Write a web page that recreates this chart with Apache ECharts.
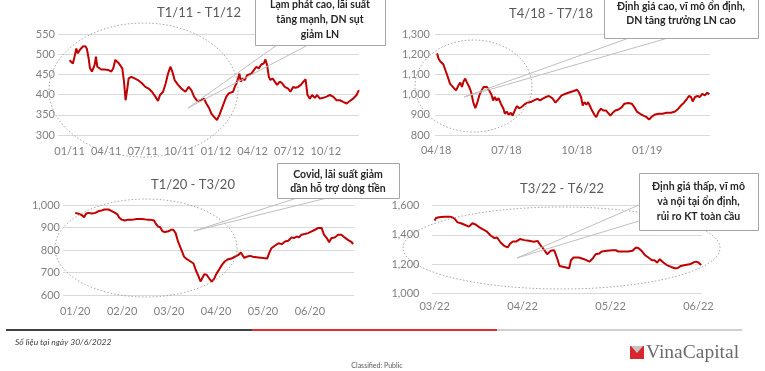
<!DOCTYPE html>
<html><head><meta charset="utf-8">
<script src="https://cdn.jsdelivr.net/npm/echarts@6/dist/echarts.min.js"></script>
<style>html,body{margin:0;padding:0;background:#fff}#c{width:765px;height:371px}</style>
</head><body><div id="c"></div>
<script>
// ---- DATA (x = months since the first label of each panel) ----
// Panel 1: T1/11 - T1/12 (base Jan 2011)
const p1T = [0,0.14,0.27,0.41,0.55,0.68,0.82,0.96,1.09,1.29,1.42,1.56,1.67,1.83,1.94,2.05,2.16,2.27,2.41,2.6,2.87,3.15,3.42,3.58,3.75,3.91,4.05,4.18,4.32,4.46,4.59,4.73,4.84,5.06,5.33,5.6,5.93,6.21,6.48,6.75,7.03,7.25,7.41,7.66,7.88,8.07,8.26,8.42,8.61,8.89,9.16,9.49,9.76,9.98,10.2,10.47,10.8,11.02,11.21,11.43,11.62,11.84,12.08,12.3,12.58,12.85,13.04,13.2,13.4,13.54,13.67,13.81,13.92,14.03,14.17,14.36,14.55,14.71,14.9,15.12,15.31,15.5,15.73,15.92,16.05,16.19,16.33,16.46,16.63,16.82,17.01,17.23,17.42,17.64,17.91,18.1,18.32,18.51,18.73,18.95,19.17,19.34,19.5,19.69,19.88,20.1,20.29,20.51,20.78,21.06,21.33,21.6,21.88,22.15,22.42,22.7,22.97,23.24,23.52,23.71];
const p1V = [485,483,477,494,514,502,510,513,519,520,513,490,465,457,461,473,494,469,465,462,462,461,457,465,486,483,477,481,465,432,386,415,440,444,440,436,428,419,415,407,395,384,399,407,428,452,469,457,436,424,415,407,419,411,395,384,386,390,378,367,353,345,337,351,374,395,403,399,407,419,428,440,452,432,440,436,448,444,452,461,469,465,475,477,487,473,444,436,440,432,424,432,428,419,415,407,419,417,419,424,432,438,399,390,399,392,399,390,392,395,399,395,386,386,382,378,384,390,399,411];
// Panel 2: T4/18 - T7/18 (base Apr 2018)
const p2T = [0.04,0.1,0.17,0.24,0.31,0.35,0.42,0.47,0.52,0.59,0.67,0.75,0.85,0.95,1.03,1.1,1.17,1.24,1.3,1.34,1.41,1.49,1.58,1.67,1.74,1.84,1.94,2.02,2.09,2.16,2.26,2.36,2.43,2.5,2.58,2.66,2.76,2.87,2.93,3.01,3.09,3.18,3.26,3.35,3.44,3.54,3.64,3.75,3.89,4.03,4.17,4.32,4.43,4.53,4.67,4.81,4.95,5.09,5.21,5.35,5.52,5.73,5.87,6.01,6.08,6.18,6.25,6.32,6.41,6.48,6.55,6.65,6.75,6.83,6.93,7.03,7.14,7.25,7.33,7.43,7.53,7.64,7.78,7.92,8.03,8.2,8.34,8.45,8.56,8.7,8.84,8.98,9.08,9.17,9.31,9.48,9.65,9.83,10.02,10.19,10.33,10.44,10.57,10.68,10.78,10.87,10.94,11.04,11.15,11.25,11.35,11.46,11.56,11.65];
const p2V = [1204,1179,1165,1159,1149,1154,1112,1096,1079,1054,1043,1033,1021,1046,1059,1038,1066,1079,1063,1054,1038,1013,963,933,955,996,1021,1038,1043,1038,1021,999,971,988,971,983,955,930,905,916,900,910,896,921,943,933,938,950,960,963,971,979,971,979,988,993,983,960,976,996,1004,1013,1018,1024,1013,988,946,963,950,963,946,921,900,888,916,930,921,921,910,896,910,921,926,938,955,958,955,938,916,905,896,888,876,888,900,905,905,910,910,916,930,946,960,976,993,988,966,988,993,988,1004,996,1009,1001];
// Panel 3: T1/20 - T3/20 (base Jan 2020)
const p3T = [0,0.07,0.14,0.19,0.23,0.28,0.35,0.43,0.5,0.57,0.62,0.66,0.71,0.78,0.85,0.9,0.94,0.99,1.06,1.13,1.17,1.23,1.31,1.42,1.53,1.6,1.63,1.68,1.72,1.76,1.81,1.86,1.91,1.99,2.04,2.09,2.14,2.19,2.23,2.28,2.32,2.38,2.45,2.52,2.57,2.62,2.67,2.72,2.75,2.8,2.86,2.91,2.96,3.01,3.07,3.13,3.19,3.26,3.33,3.4,3.47,3.53,3.57,3.6,3.65,3.72,3.79,3.9,4.01,4.09,4.13,4.18,4.26,4.33,4.4,4.47,4.54,4.61,4.66,4.72,4.77,4.82,4.89,4.96,5.04,5.11,5.18,5.25,5.3,5.36,5.41,5.46,5.53,5.6,5.67,5.74,5.81,5.89,5.92];
const p3V = [965,961,955,946,961,965,962,965,973,976,980,988,980,973,965,958,943,935,931,935,943,935,938,938,935,935,928,931,916,905,901,883,880,883,890,890,875,838,830,792,770,759,750,740,710,687,660,680,692,690,672,660,672,695,714,735,750,759,762,770,777,789,792,765,770,774,770,767,764,762,785,808,820,830,826,838,841,856,853,860,856,868,871,875,883,890,898,898,868,853,835,853,856,868,868,856,845,835,826];
// Panel 4: T3/22 - T6/22 (base Mar 2022)
const p4T = [0,0.015,0.05,0.11,0.17,0.2,0.23,0.26,0.3,0.34,0.39,0.43,0.47,0.51,0.54,0.59,0.64,0.68,0.71,0.75,0.79,0.83,0.86,0.89,0.93,0.97,1.02,1.07,1.13,1.17,1.2,1.24,1.28,1.32,1.36,1.39,1.42,1.47,1.53,1.55,1.58,1.64,1.7,1.76,1.8,1.83,1.87,1.9,1.96,2.02,2.06,2.09,2.15,2.2,2.25,2.29,2.32,2.36,2.39,2.43,2.47,2.5,2.53,2.56,2.6,2.64,2.69,2.73,2.76,2.8,2.85,2.9,2.94,2.97,3.0,3.03];
const p4V = [1497,1515,1520,1524,1524,1520,1508,1485,1479,1469,1456,1479,1469,1451,1440,1424,1394,1378,1382,1348,1325,1314,1341,1355,1355,1371,1364,1359,1353,1359,1332,1302,1268,1291,1295,1245,1188,1181,1172,1227,1245,1245,1234,1217,1240,1268,1272,1286,1291,1295,1295,1286,1286,1286,1291,1314,1309,1286,1263,1245,1227,1227,1211,1234,1211,1194,1181,1172,1172,1188,1194,1199,1211,1217,1211,1194];

const titles = ['T1/11 - T1/12','T4/18 - T7/18','T1/20 - T3/20','T3/22 - T6/22'];
const bases = [[2011,1],[2018,4],[2020,1],[2022,3]];
const labelMonths = [[0,3,6,9,12,15,18,21],[0,3,6,9],[0,1,2,3,4,5],[0,1,2,3]];
const yRanges = [[300,550,50],[800,1300,100],[600,1000,100],[1000,1600,200]];
const notes = [
  'Lạm phát cao, lãi suất\ntăng mạnh, DN sụt\ngiảm LN',
  'Định giá cao, vĩ mô ổn định,\nDN tăng trưởng LN cao',
  'Covid, lãi suất giảm\ndần hỗ trợ dòng tiền',
  'Định giá thấp, vĩ mô\nvà nội tại ổn định,\nrủi ro KT toàn cầu'
];
const footNote = 'Số liệu tại ngày 30/6/2022';
const classText = 'Classified: Public';
const brand = 'VinaCapital';

// ---- LAYOUT ----
const grids = [
  {left:58, top:34, width:301, height:101},
  {left:435, top:34, width:275, height:101},
  {left:63, top:205, width:291, height:90},
  {left:432, top:205.5, width:270, height:88}
];
const xMinMax = [[-0.95,23.72],[-0.05,11.68],[-0.26,5.94],[-0.03,3.04]];
const xMargins = [11,9.5,11,7.5];
const yMargins = [3,5,3,12.5];
const FONT = 'Lato, "Open Sans", sans-serif';
const series = [[p1T,p1V],[p2T,p2V],[p3T,p3V],[p4T,p4V]];

function pad(n){return (n<10?'0':'')+n;}
function monthFmt(base){
  return function(v){
    const m = base[1]-1 + Math.round(v);
    const mm = ((m%12)+12)%12 + 1;
    const yy = (base[0] + Math.floor(m/12)) % 100;
    return pad(mm)+'/'+pad(yy);
  };
}

const option = {
  animation:false,
  backgroundColor:'#ffffff',
  grid: grids.map(g=>Object.assign({containLabel:false}, g)),
  xAxis: grids.map((g,i)=>({
    type:'value', gridIndex:i, min:xMinMax[i][0], max:xMinMax[i][1],
    axisLine:{show:false}, axisTick:{show:false}, splitLine:{show:false},
    axisLabel:{customValues:labelMonths[i], formatter:monthFmt(bases[i]), color:'#7f7f7f',
      fontSize:11, fontFamily:FONT, margin:xMargins[i], showMinLabel:true, showMaxLabel:true, hideOverlap:false}
  })),
  yAxis: grids.map((g,i)=>({
    type:'value', gridIndex:i, min:yRanges[i][0], max:yRanges[i][1], interval:yRanges[i][2],
    axisLine:{show:false}, axisTick:{show:false},
    splitLine:{show:true, lineStyle:{color:'#d9d9d9', width:1}},
    axisLabel:{color:'#7f7f7f', fontSize:11, fontFamily:FONT, margin:yMargins[i],
      formatter:v=>v.toLocaleString('en-US')}
  })),
  series: series.map((s,i)=>({
    type:'line', xAxisIndex:i, yAxisIndex:i, showSymbol:false, symbol:'none',
    lineStyle:{color:'#c00000', width:2}, z:3,
    data: s[0].map((t,k)=>[t, s[1][k]])
  })),
  graphic: []
};

const G = option.graphic;
// dotted ellipses
[[143.5,90,94.5,67],[473.5,86,58.5,46],[146,248,91,49],[561.5,248,158.5,41]].forEach(e=>{
  G.push({type:'ellipse', z:50, silent:true, shape:{cx:e[0],cy:e[1],rx:e[2],ry:e[3]},
    style:{fill:'none', stroke:'#a6a6a6', lineWidth:1, lineDash:[1.5,2]}});
});
// callout leader lines
[[188,108,277,45],[188,108,308,45],[464,97,629,38],[464,97,668,38],
 [194,231,297,198],[194,231,327,198],[517,258,639,205],[517,258,639,221]].forEach(l=>{
  G.push({type:'line', z:60, silent:true, shape:{x1:l[0],y1:l[1],x2:l[2],y2:l[3]},
    style:{stroke:'#bfbfbf', lineWidth:1}});
});
// callout boxes
const boxes = [[255,-5,130,50],[604,-5,154,43],[277,163,122,35],[639,173,119,57]];
const boxText = [[320,20,15],[681,14,14],[338,181.5,14],[698.5,202,15]];
boxes.forEach((b,i)=>{
  G.push({type:'rect', z:70, silent:true, shape:{x:b[0]+0.5,y:b[1]+0.5,width:b[2],height:b[3]},
    style:{fill:'#ffffff', stroke:'#a6a6a6', lineWidth:1}});
  G.push({type:'text', z:71, silent:true, x:boxText[i][0], y:boxText[i][1],
    style:{text:notes[i], fill:'#262626', font:'bold 10.5px '+FONT, textAlign:'center',
      textVerticalAlign:'middle', lineHeight:boxText[i][2]}});
});
// panel titles
[[199,13],[551,14],[193,185],[562,189]].forEach((p,i)=>{
  G.push({type:'text', z:80, silent:true, x:p[0], y:p[1],
    style:{text:titles[i], fill:'#595959', font:'13px '+FONT, textAlign:'center', textVerticalAlign:'middle'}});
});
// footer bars
[[6,246,'#404040'],[252,245,'#e0302d'],[497,245,'#d0d0d0']].forEach(r=>{
  G.push({type:'rect', z:80, silent:true, shape:{x:r[0],y:329,width:r[1],height:2}, style:{fill:r[2]}});
});
G.push({type:'text', z:80, silent:true, x:15, y:342,
  style:{text:footNote, fill:'#404040', font:'italic 8.5px '+FONT, textAlign:'left', textVerticalAlign:'middle'}});
G.push({type:'text', z:80, silent:true, x:377, y:366,
  style:{text:classText, fill:'#595959', font:'7px '+FONT, textAlign:'center', textVerticalAlign:'middle'}});
// logo
G.push({type:'rect', z:80, silent:true, shape:{x:630,y:346,width:14,height:13}, style:{fill:'#d7282f'}});
G.push({type:'polygon', z:81, silent:true, shape:{points:[[631,346],[643,346],[637,353]]}, style:{fill:'#c4c4c4'}});
G.push({type:'text', z:80, silent:true, x:646, y:353,
  style:{text:brand, fill:'#6b6b6b', font:'19.5px "Liberation Serif", "DejaVu Serif", serif', textAlign:'left', textVerticalAlign:'middle'}});

const chart = echarts.init(document.getElementById('c'), null, {renderer:'canvas'});
chart.setOption(option);
</script></body></html>
